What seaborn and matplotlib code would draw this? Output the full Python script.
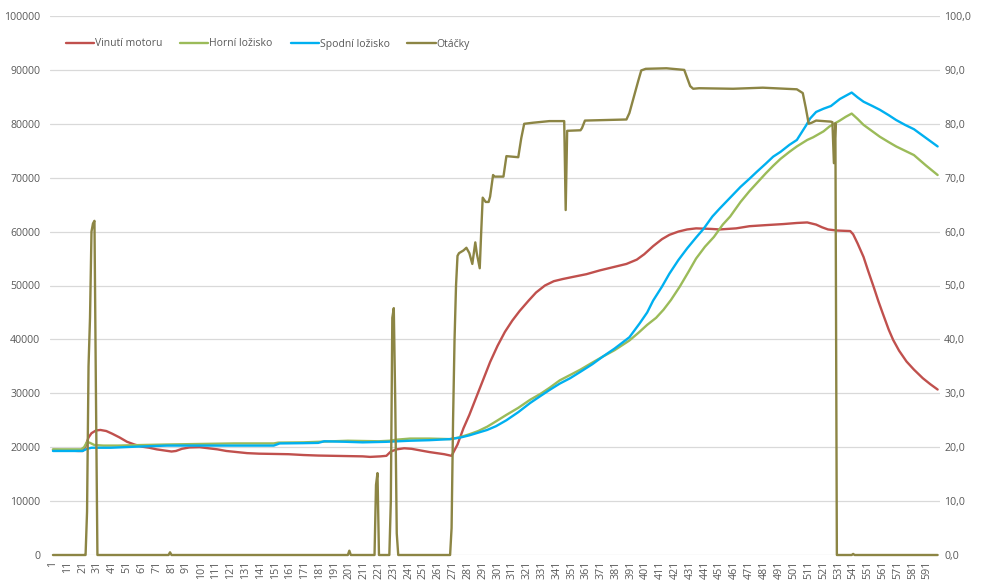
import matplotlib
matplotlib.use("Agg")
import matplotlib.pyplot as plt
from matplotlib.ticker import FuncFormatter
import seaborn as sns
import numpy as np

# ---------------- data ----------------
vin_x = [1, 10, 18, 21, 23, 25, 27, 30, 33, 37, 41, 46, 51, 56, 61, 66, 71, 76, 81, 84, 88, 93,
         100, 106, 112, 118, 125, 132, 140, 150, 160, 170, 180, 190, 200, 210, 215, 222, 226, 229,
         233, 238, 243, 249, 255, 260, 265, 270, 274, 278, 282, 286, 291, 296, 301, 306, 311, 316,
         322, 327, 333, 339, 345, 352, 361, 370, 379, 388, 395, 400, 406, 412, 417, 423, 429, 435,
         445, 451, 462, 471, 482, 494, 503, 510, 516, 520, 524, 530, 539, 541, 544, 548, 551, 555,
         558, 561, 565, 568, 572, 577, 582, 588, 593, 598]
vin_y = [19.5, 19.4, 19.3, 19.3, 20.2, 21.8, 22.6, 23.1, 23.2, 23.0, 22.5, 21.8, 21.0, 20.5, 20.1,
         19.9, 19.6, 19.4, 19.2, 19.3, 19.7, 19.95, 20.0, 19.8, 19.6, 19.3, 19.1, 18.9, 18.8, 18.75,
         18.7, 18.55, 18.45, 18.4, 18.35, 18.3, 18.2, 18.3, 18.4, 19.2, 19.6, 19.8, 19.7, 19.4,
         19.1, 18.9, 18.7, 18.4, 20.5, 23.5, 26.0, 28.8, 32.3, 35.8, 38.8, 41.4, 43.5, 45.3, 47.2,
         48.7, 50.0, 50.8, 51.2, 51.6, 52.1, 52.8, 53.4, 54.0, 54.8, 55.8, 57.3, 58.6, 59.4, 60.0,
         60.4, 60.6, 60.5, 60.4, 60.6, 61.0, 61.2, 61.4, 61.6, 61.7, 61.3, 60.8, 60.4, 60.2, 60.1,
         59.5, 57.8, 55.3, 52.8, 49.6, 47.1, 44.8, 41.8, 39.9, 37.9, 35.9, 34.4, 32.8, 31.7, 30.7]

hor_x = [1, 10, 20, 22, 24, 26, 29, 35, 45, 60, 78, 100, 123, 150, 153, 170, 180, 190, 200, 221,
         228, 233, 242, 255, 269, 275, 282, 288, 294, 300, 307, 315, 323, 330, 336, 343, 350, 357,
         365, 372, 380, 390, 396, 402, 408, 413, 418, 424, 430, 435, 441, 447, 453, 458, 465, 471,
         476, 482, 487, 492, 498, 503, 510, 514, 521, 525, 532, 536, 540, 544, 548, 554, 559, 565,
         570, 576, 582, 590, 598]
hor_y = [19.6, 19.6, 19.6, 20.0, 21.0, 20.8, 20.4, 20.3, 20.3, 20.4, 20.5, 20.6, 20.7, 20.7, 20.85,
         20.9, 21.0, 21.1, 21.2, 21.1, 21.2, 21.4, 21.6, 21.6, 21.5, 21.8, 22.4, 23.0, 23.8, 24.8,
         26.0, 27.3, 28.8, 29.9, 31.0, 32.4, 33.4, 34.4, 35.7, 36.8, 38.0, 39.8, 41.2, 42.7, 44.0,
         45.5, 47.3, 49.8, 52.6, 55.0, 57.2, 59.0, 61.3, 62.8, 65.5, 67.5, 69.0, 70.8, 72.2, 73.5,
         74.8, 75.8, 77.0, 77.5, 78.6, 79.5, 80.6, 81.3, 81.9, 80.9, 79.8, 78.6, 77.6, 76.6, 75.8,
         75.0, 74.2, 72.3, 70.5]

spo_x = [1, 10, 21, 24, 27, 40, 57, 78, 100, 125, 150, 154, 170, 180, 184, 199, 210, 226, 242,
         255, 269, 276, 282, 288, 294, 300, 307, 315, 323, 330, 336, 343, 350, 357, 365, 372, 380,
         390, 397, 402, 406, 412, 417, 423, 429, 435, 440, 446, 451, 458, 465, 471, 476, 482, 487,
         492, 498, 503, 509, 512, 516, 521, 526, 532, 536, 540, 544, 548, 554, 559, 565, 570, 576,
         582, 590, 598]
spo_y = [19.3, 19.3, 19.3, 19.7, 19.9, 19.9, 20.1, 20.3, 20.3, 20.3, 20.3, 20.7, 20.75, 20.8, 21.1,
         21.0, 20.9, 21.0, 21.2, 21.3, 21.5, 21.8, 22.2, 22.7, 23.2, 23.9, 25.0, 26.5, 28.2, 29.5,
         30.6, 31.8, 32.8, 34.0, 35.4, 36.8, 38.3, 40.4, 43.0, 45.0, 47.2, 49.8, 52.2, 54.7, 56.9,
         58.9, 60.5, 62.8, 64.3, 66.3, 68.3, 69.8, 71.1, 72.6, 73.9, 74.8, 76.1, 77.0, 79.6, 81.0,
         82.2, 82.8, 83.3, 84.6, 85.2, 85.8, 84.9, 84.1, 83.3, 82.6, 81.6, 80.7, 79.8, 79.0, 77.4,
         75.8]

ot_x = [1, 22, 23, 24, 25, 26, 27, 28, 29, 30, 31,
        79, 80, 81, 200, 201, 202,
        218, 219, 220, 221,
        228, 229, 230, 231, 232, 233, 234,
        269, 270, 271, 272, 273, 274, 275, 278, 280, 282, 284, 286, 287, 289, 290, 291,
        293, 295, 296, 298, 299, 305, 307, 315, 317, 319, 325, 336, 346, 347, 348, 357,
        358, 360, 388, 390, 392, 393, 396, 398, 401, 415, 427, 429, 431, 433, 437, 460,
        480, 503, 507, 509, 511, 513, 516, 526, 527, 528, 529, 530, 540, 541, 542, 598]
ot_y = [0, 0, 0, 8000, 35000, 44000, 60000, 61500, 62000, 30000, 0,
        0, 500, 0, 0, 800, 0,
        0, 13000, 15200, 0,
        0, 10000, 44000, 45800, 28000, 4000, 0,
        0, 5000, 25000, 40000, 50000, 55500, 56000, 56500, 57000, 56000, 54000, 58000,
        56000, 53200, 60000, 66300,
        65500, 65500, 66500, 70500, 70200, 70200, 74000, 73800, 77300, 80000, 80200, 80500,
        80500, 64000, 78700, 78800,
        79200, 80600, 80800, 82000, 84000, 85000, 88000, 89900, 90200, 90300, 90000, 88500,
        87000, 86500, 86600, 86500,
        86700, 86400, 85700, 83000, 80000, 80200, 80600, 80400, 80300, 72700, 80100, 0, 0,
        200, 0, 0]

labels = ["Vinutí motoru", "Horní ložisko", "Spodní ložisko", "Otáčky"]
colors = ["#C0504D", "#9BBB59", "#00B0F0", "#8C8544"]
xtick_vals = list(range(1, 600, 10))

# ---------------- styling ----------------
sns.set_theme(style="white")
plt.rcParams["font.family"] = ["Open Sans", "DejaVu Sans"]

fig = plt.figure(figsize=(10, 5.84), dpi=100)
ax = fig.add_axes([0.05, 29 / 584, 0.89, 539 / 584])
ax2 = ax.twinx()

lw = 1.7
sns.lineplot(x=vin_x, y=vin_y, ax=ax, color=colors[0], linewidth=lw, label=labels[0], legend=False)
sns.lineplot(x=hor_x, y=hor_y, ax=ax, color=colors[1], linewidth=lw, label=labels[1], legend=False)
sns.lineplot(x=spo_x, y=spo_y, ax=ax, color=colors[2], linewidth=lw, label=labels[2], legend=False)
sns.lineplot(x=ot_x, y=ot_y, ax=ax2, color=colors[3], linewidth=lw, label=labels[3], legend=False)

for a in (ax, ax2):
    for ln in a.get_lines():
        ln.set_clip_on(False)
        ln.set_solid_joinstyle("round")

ax.set_xlim(-1, 599.6)
ax.set_ylim(0, 100)
ax2.set_ylim(0, 100000)

# temperature ticks on the right, speed ticks on the left
ax.yaxis.tick_right()
ax2.yaxis.tick_left()
ax.set_yticks(np.arange(0, 101, 10))
ax2.set_yticks(np.arange(0, 100001, 10000))
ax.yaxis.set_major_formatter(FuncFormatter(lambda v, p: f"{v:.1f}".replace(".", ",")))
ax2.yaxis.set_major_formatter(FuncFormatter(lambda v, p: f"{int(round(v))}"))

ax.set_xticks(xtick_vals)
ax.set_xticklabels([str(v) for v in xtick_vals], rotation=90)

tick_color = "#595959"
ax.tick_params(axis="x", length=0, pad=4, labelsize=7.7, colors=tick_color)
ax.tick_params(axis="y", length=0, pad=3, labelsize=7.6, colors=tick_color)
ax2.tick_params(axis="y", length=0, pad=7, labelsize=7.6, colors=tick_color)

ax.grid(axis="y", color="#D9D9D9", linewidth=0.9)
ax.grid(axis="x", visible=False)
ax2.grid(False)
ax.set_axisbelow(True)
for a in (ax, ax2):
    for s in a.spines.values():
        s.set_visible(False)
    a.set_xlabel("")
    a.set_ylabel("")

handles = ax.get_lines()[:3] + ax2.get_lines()[:1]
fig.legend(handles, labels, loc="center left", bbox_to_anchor=(0.066, 1 - 44 / 584),
           bbox_transform=fig.transFigure, ncol=4, frameon=False, fontsize=7.5,
           handlelength=2.7, handletextpad=0.1, columnspacing=1.7, borderpad=0,
           borderaxespad=0, labelcolor=tick_color)

fig.savefig("out.png", dpi=100)
